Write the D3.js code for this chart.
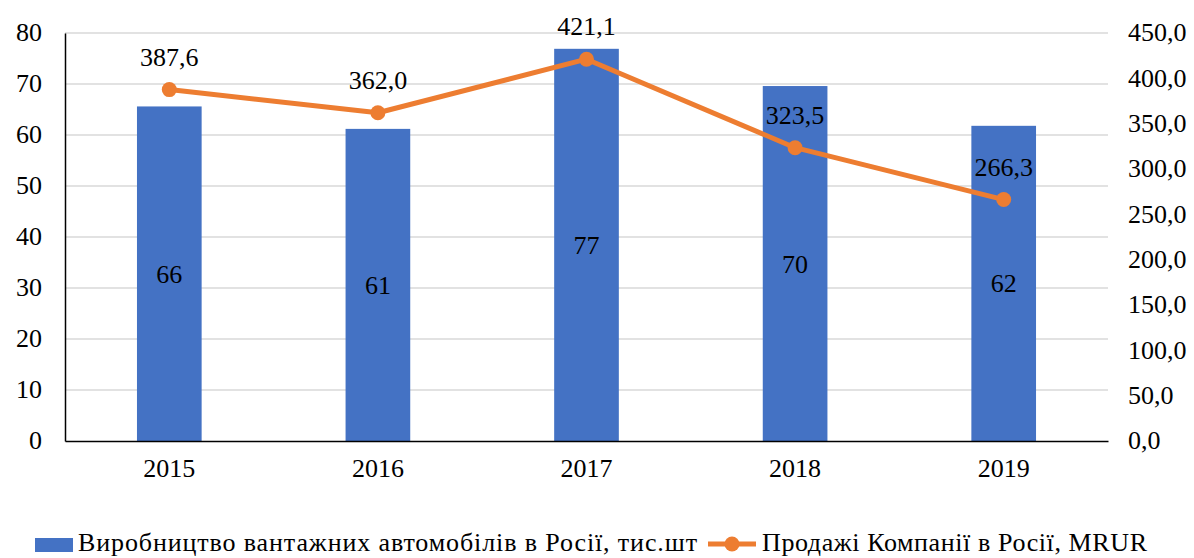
<!DOCTYPE html>
<html>
<head>
<meta charset="utf-8">
<script src="https://cdn.jsdelivr.net/npm/d3@7"></script>
<style>
  body { margin: 0; background: #fff; }
  text { font-family: "Liberation Serif", "Times New Roman", serif; fill: #000; }
</style>
</head>
<body>
<div id="chart"></div>
<script>
var years = ["2015", "2016", "2017", "2018", "2019"];
var production = [65.6, 61.2, 76.9, 69.6, 61.8];   // тис.шт
var sales = [387.6, 362.0, 421.1, 323.5, 266.3];     // MRUR
var leftTicks = [0, 10, 20, 30, 40, 50, 60, 70, 80];
var rightTicks = [0, 50, 100, 150, 200, 250, 300, 350, 400, 450];
var barName = "Виробництво вантажних автомобілів в Росії, тис.шт";
var lineName = "Продажі Компанії в Росії, MRUR";

var W = 1194, H = 558;
var plotL = 65, plotR = 1108, plotT = 33, plotB = 441;
var blue = "#4472C4", orange = "#ED7D31";
var fs = "26px";

var svg = d3.select("#chart").append("svg")
    .attr("width", W).attr("height", H);

var x = d3.scaleBand().domain(years).range([plotL, plotR]).paddingInner(0.69).paddingOuter(0.345);
var y = d3.scaleLinear().domain([0, 80]).range([plotB, plotT]);
var y2 = d3.scaleLinear().domain([0, 450]).range([plotB, plotT]);

// grid
svg.append("g").selectAll("line")
    .data(leftTicks.slice(1))
    .enter().append("line")
    .attr("x1", plotL).attr("x2", plotR)
    .attr("y1", function (d) { return y(d); })
    .attr("y2", function (d) { return y(d); })
    .attr("stroke", "#d9d9d9").attr("stroke-width", 1.5);

// bars
svg.append("g").selectAll("rect")
    .data(production)
    .enter().append("rect")
    .attr("x", function (d, i) { return x(years[i]); })
    .attr("width", x.bandwidth())
    .attr("y", function (d) { return y(d); })
    .attr("height", function (d) { return y(0) - y(d); })
    .attr("fill", blue);

svg.append("g").selectAll("text")
    .data(production)
    .enter().append("text")
    .attr("x", function (d, i) { return x(years[i]) + x.bandwidth() / 2; })
    .attr("y", function (d) { return (y(d) + y(0)) / 2 + 9; })
    .attr("text-anchor", "middle")
    .style("font-size", fs)
    .text(function (d) { return d3.format(".0f")(d); });

// axes
var yAxis = d3.axisLeft(y).tickValues(leftTicks).tickSize(0).tickPadding(23);
var gy = svg.append("g").attr("transform", "translate(" + plotL + ",0)").call(yAxis);
gy.select(".domain").attr("stroke", "#000").attr("stroke-width", 1.5);
gy.selectAll("text").style("font-size", fs).attr("dy", "0.3em");

var y2Axis = d3.axisRight(y2).tickValues(rightTicks).tickSize(0).tickPadding(20)
    .tickFormat(function (d) { return d3.format(".1f")(d).replace(".", ","); });
var gy2 = svg.append("g").attr("transform", "translate(" + plotR + ",0)").call(y2Axis);
gy2.select(".domain").remove();
gy2.selectAll("text").style("font-size", fs).attr("dy", "0.3em");

var xAxis = d3.axisBottom(x).tickSize(0).tickPadding(18);
var gx = svg.append("g").attr("transform", "translate(0," + plotB + ")").call(xAxis);
gx.select(".domain").attr("stroke", "#000").attr("stroke-width", 1.5);
gx.selectAll("text").style("font-size", fs);

// line
var cx = function (d, i) { return x(years[i]) + x.bandwidth() / 2; };
var line = d3.line().x(cx).y(function (d) { return y2(d); });
svg.append("path").datum(sales)
    .attr("d", line)
    .attr("fill", "none").attr("stroke", orange).attr("stroke-width", 5)
    .attr("stroke-linejoin", "round");
svg.append("g").selectAll("circle")
    .data(sales)
    .enter().append("circle")
    .attr("cx", cx)
    .attr("cy", function (d) { return y2(d); })
    .attr("r", 7.5)
    .attr("fill", orange);
svg.append("g").selectAll("text")
    .data(sales)
    .enter().append("text")
    .attr("x", cx)
    .attr("y", function (d) { return y2(d) - 24; })
    .attr("text-anchor", "middle")
    .style("font-size", fs)
    .text(function (d) { return d3.format(".1f")(d).replace(".", ","); });

// legend
var lg = svg.append("g");
lg.append("rect").attr("x", 35).attr("y", 538).attr("width", 38).attr("height", 14).attr("fill", blue);
lg.append("text").attr("x", 78).attr("y", 551).style("font-size", fs)
    .attr("textLength", 619).attr("lengthAdjust", "spacing").text(barName);
lg.append("line").attr("x1", 708).attr("x2", 756).attr("y1", 544).attr("y2", 544)
    .attr("stroke", orange).attr("stroke-width", 5);
lg.append("circle").attr("cx", 732).attr("cy", 544).attr("r", 7.5).attr("fill", orange);
lg.append("text").attr("x", 762).attr("y", 551).style("font-size", fs)
    .attr("textLength", 385).attr("lengthAdjust", "spacing").text(lineName);
</script>
</body>
</html>
